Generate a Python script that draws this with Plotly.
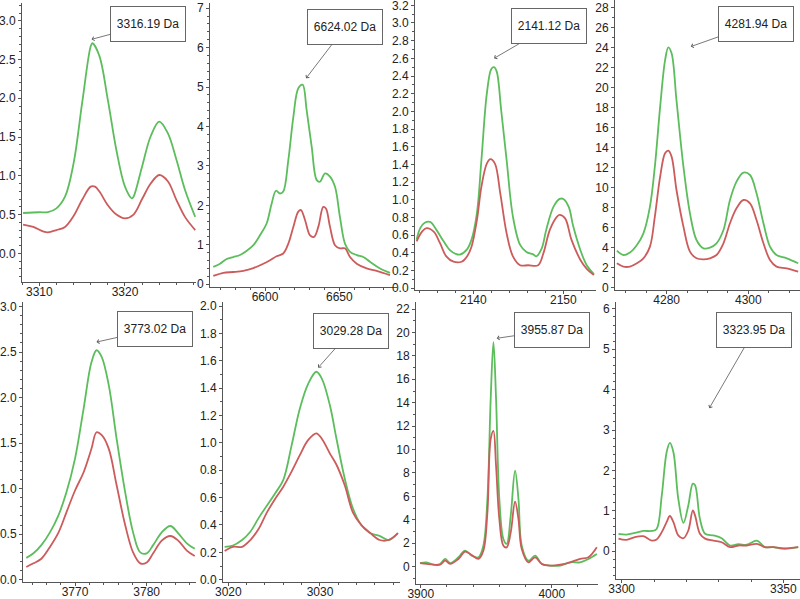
import plotly.graph_objects as go

# ---------------- data ----------------
# Panel 1
p1_gx = [3308.1, 3310, 3311, 3312, 3313, 3314, 3315, 3316, 3316.2, 3317, 3318, 3319, 3320, 3320.8, 3321, 3322, 3323, 3324, 3325, 3326, 3327, 3328.2]
p1_gy = [0.52, 0.53, 0.53, 0.58, 0.73, 1.16, 1.94, 2.67, 2.71, 2.55, 1.98, 1.33, 0.86, 0.71, 0.73, 1.12, 1.51, 1.70, 1.55, 1.21, 0.82, 0.47]
p1_rx = [3308.1, 3309.3, 3310.5, 3311, 3312, 3313, 3314, 3315, 3316, 3316.5, 3317, 3318, 3319, 3320, 3321, 3322, 3323, 3324, 3325, 3326, 3327, 3328.2]
p1_ry = [0.37, 0.34, 0.28, 0.27, 0.30, 0.34, 0.48, 0.69, 0.86, 0.86, 0.80, 0.62, 0.50, 0.45, 0.50, 0.70, 0.90, 1.01, 0.93, 0.69, 0.47, 0.30]

# Panel 2
p2_gx = [6565.2, 6569.7, 6574.2, 6578.7, 6583.2, 6587.7, 6592.2, 6596.6, 6601.1, 6604.5, 6607.4, 6610.1, 6612.3, 6615.7, 6619.1, 6622.4, 6625.3, 6628.0, 6631.4, 6634.8, 6637.0, 6640.4, 6643.7, 6647.1, 6650.4, 6653.8, 6657.2, 6661.7, 6666.1, 6670.6, 6677.4, 6684.1]
p2_gy = [0.44, 0.52, 0.64, 0.69, 0.74, 0.85, 0.99, 1.24, 1.54, 2.05, 2.37, 2.30, 2.35, 3.15, 4.25, 4.97, 5.06, 4.42, 3.49, 2.64, 2.60, 2.81, 2.73, 2.47, 1.71, 1.03, 0.82, 0.74, 0.69, 0.57, 0.40, 0.29]
p2_rx = [6565.2, 6572.0, 6578.7, 6585.4, 6592.2, 6598.9, 6603.4, 6607.8, 6612.3, 6615.7, 6619.1, 6622.4, 6624.2, 6626.9, 6630.3, 6633.0, 6635.9, 6639.2, 6641.0, 6643.7, 6647.1, 6650.4, 6653.8, 6657.2, 6661.7, 6668.4, 6675.1, 6684.1]
p2_ry = [0.21, 0.29, 0.31, 0.34, 0.41, 0.52, 0.61, 0.71, 0.78, 1.03, 1.46, 1.84, 1.88, 1.63, 1.24, 1.20, 1.46, 1.96, 1.92, 1.46, 0.99, 0.91, 0.91, 0.69, 0.52, 0.40, 0.34, 0.23]

# Panel 3
p3_gx = [2133.7, 2134.1, 2134.6, 2135.2, 2135.9, 2136.7, 2137.4, 2138.0, 2138.5, 2139.3, 2139.8, 2140.4, 2140.9, 2141.5, 2142.0, 2142.3, 2142.6, 2143.1, 2143.7, 2144.4, 2145.2, 2145.9, 2146.7, 2147.0, 2147.6, 2148.1, 2148.9, 2149.6, 2150.0, 2150.6, 2151.1, 2151.9, 2152.6, 2153.4]
p3_gy = [0.55, 0.68, 0.74, 0.75, 0.66, 0.53, 0.43, 0.39, 0.38, 0.44, 0.55, 0.85, 1.45, 2.20, 2.48, 2.50, 2.45, 2.01, 1.45, 0.81, 0.49, 0.41, 0.38, 0.36, 0.45, 0.66, 0.92, 1.01, 1.01, 0.92, 0.70, 0.43, 0.26, 0.16]
p3_rx = [2133.7, 2134.3, 2134.8, 2135.6, 2136.3, 2137.0, 2137.8, 2138.7, 2139.3, 2139.8, 2140.4, 2140.9, 2141.5, 2141.9, 2142.4, 2143.0, 2143.7, 2144.4, 2145.2, 2146.1, 2147.2, 2147.8, 2148.5, 2149.3, 2149.6, 2150.2, 2150.9, 2151.9, 2152.6, 2153.4]
p3_ry = [0.53, 0.64, 0.68, 0.64, 0.51, 0.36, 0.30, 0.30, 0.36, 0.47, 0.77, 1.15, 1.41, 1.46, 1.41, 1.07, 0.62, 0.36, 0.26, 0.26, 0.26, 0.40, 0.66, 0.81, 0.83, 0.79, 0.55, 0.32, 0.22, 0.15]

# Panel 4
p4_x = [4267.8, 4269.4, 4271.0, 4272.7, 4274.3, 4275.9, 4277.1, 4278.4, 4279.6, 4280.4, 4281.2, 4282.4, 4284.1, 4285.7, 4287.3, 4289.0, 4290.6, 4292.2, 4293.9, 4295.5, 4297.1, 4298.8, 4300.4, 4302.0, 4303.7, 4305.3, 4306.9, 4309.4, 4312.2]
p4_g = [3.67, 3.23, 3.47, 4.23, 5.4, 8.07, 12.07, 18.07, 22.7, 24.0, 23.4, 18.7, 12.07, 7.4, 4.73, 3.9, 3.97, 4.4, 5.73, 8.73, 10.57, 11.47, 11.23, 9.4, 6.4, 4.07, 3.23, 2.9, 2.4]
p4_r = [2.4, 2.07, 2.07, 2.4, 2.9, 4.07, 7.07, 11.07, 13.4, 13.67, 13.07, 9.73, 6.07, 3.57, 2.9, 2.8, 2.9, 3.23, 4.4, 6.4, 7.9, 8.73, 8.4, 6.73, 4.4, 2.73, 2.07, 1.9, 1.57]

# Panel 5
p5_x = [3763.2, 3764.2, 3765.3, 3766.5, 3767.7, 3768.8, 3770.0, 3771.2, 3772.3, 3773.0, 3773.7, 3774.7, 3775.8, 3777.0, 3778.1, 3779.1, 3780.0, 3780.9, 3782.1, 3783.3, 3784.4, 3785.6, 3786.7]
p5_g = [0.24, 0.29, 0.38, 0.52, 0.71, 0.96, 1.33, 1.88, 2.39, 2.52, 2.45, 2.14, 1.55, 0.96, 0.52, 0.30, 0.29, 0.38, 0.52, 0.59, 0.51, 0.40, 0.34]
p5_r = [0.14, 0.18, 0.23, 0.36, 0.52, 0.74, 0.98, 1.18, 1.44, 1.62, 1.59, 1.44, 1.04, 0.60, 0.30, 0.18, 0.19, 0.29, 0.43, 0.48, 0.43, 0.32, 0.26]

# Panel 6
p6_x = [3019.6, 3020.5, 3021.5, 3022.4, 3023.3, 3024.2, 3025.1, 3026.0, 3026.9, 3027.8, 3028.7, 3029.6, 3030.2, 3031.1, 3031.8, 3032.7, 3033.6, 3034.5, 3035.5, 3036.5, 3037.5, 3038.5]
p6_g = [0.24, 0.25, 0.29, 0.35, 0.45, 0.54, 0.63, 0.73, 0.98, 1.25, 1.43, 1.52, 1.47, 1.27, 1.03, 0.74, 0.52, 0.40, 0.34, 0.32, 0.29, 0.34]
p6_r = [0.21, 0.24, 0.24, 0.29, 0.37, 0.49, 0.59, 0.68, 0.79, 0.91, 1.02, 1.07, 1.03, 0.92, 0.84, 0.69, 0.49, 0.40, 0.34, 0.29, 0.29, 0.34]

# Panel 7
p7_x = [3899.5, 3904.6, 3909.7, 3914.8, 3918.6, 3922.4, 3928.8, 3933.8, 3938.9, 3944.0, 3947.8, 3950.9, 3953.4, 3955.5, 3957.5, 3960.0, 3963.1, 3965.6, 3968.7, 3972.0, 3974.6, 3977.1, 3982.2, 3987.3, 3992.4, 3998.7, 4006.4, 4014.0, 4021.6, 4028.0, 4034.4]
p7_g = [0.31, 0.37, 0.17, 0.23, 0.66, 0.31, 0.80, 1.37, 0.94, 0.80, 1.79, 5.78, 14.33, 19.17, 14.33, 5.78, 2.36, 1.94, 4.36, 8.2, 5.78, 1.79, 0.51, 0.94, 0.23, 0.09, 0.09, 0.37, 0.37, 0.66, 1.08]
p7_r = [0.31, 0.23, 0.17, 0.17, 0.51, 0.23, 0.66, 1.28, 1.0, 0.66, 1.37, 4.64, 10.9, 11.6, 8.6, 4.07, 1.79, 1.65, 2.93, 5.56, 4.07, 1.51, 0.37, 0.80, 0.23, 0.09, 0.17, 0.37, 0.66, 0.80, 1.65]

# Panel 8
p8_x = [3299.0, 3301.5, 3304.1, 3306.7, 3309.3, 3310.8, 3312.4, 3313.9, 3314.9, 3316.0, 3317.5, 3319.1, 3320.6, 3322.0, 3322.7, 3324.2, 3325.8, 3328.4, 3330.9, 3333.5, 3336.1, 3338.7, 3341.8, 3344.3, 3346.9, 3350.0, 3354.6]
p8_g = [0.43, 0.41, 0.45, 0.50, 0.50, 0.55, 1.38, 2.45, 2.68, 2.45, 1.30, 0.70, 1.13, 1.67, 1.63, 0.80, 0.43, 0.39, 0.32, 0.14, 0.17, 0.16, 0.26, 0.10, 0.10, 0.06, 0.10]
p8_r = [0.31, 0.28, 0.35, 0.37, 0.26, 0.29, 0.47, 0.72, 0.87, 0.72, 0.39, 0.32, 0.51, 1.01, 0.88, 0.43, 0.31, 0.26, 0.22, 0.10, 0.14, 0.14, 0.18, 0.10, 0.10, 0.07, 0.10]

labels = ["3316.19 Da", "6624.02 Da", "2141.12 Da", "4281.94 Da",
          "3773.02 Da", "3029.28 Da", "3955.87 Da", "3323.95 Da"]

series = [
    (p1_gx, p1_gy, p1_rx, p1_ry),
    (p2_gx, p2_gy, p2_rx, p2_ry),
    (p3_gx, p3_gy, p3_rx, p3_ry),
    (p4_x, p4_g, p4_x, p4_r),
    (p5_x, p5_g, p5_x, p5_r),
    (p6_x, p6_g, p6_x, p6_r),
    (p7_x, p7_g, p7_x, p7_r),
    (p8_x, p8_g, p8_x, p8_r),
]

# ---------------- layout config ----------------
W, H = 800, 599
# (left, right, top, bottom) in px
dom_px = [
    (22, 196, 3, 282), (210, 397, 3, 287), (415, 596, 0, 290), (615, 800, 0, 290),
    (23, 196, 302, 582), (223, 400, 302, 582), (416, 598, 302, 584), (616, 800, 302, 579),
]
xr = [(3307.98, 3328.29), (6563.0, 6688.8), (2133.52, 2153.63), (4267.34, 4312.65),
      (3762.74, 3786.88), (3019.42, 3038.73), (3896.4, 4035.3), (3298.24, 3355.15)]
yr = [(-0.37, 3.229), (-0.07, 7.13), (-0.02, 3.26), (-0.27, 28.73),
      (-0.025, 3.05), (-0.017, 2.03), (-1.48, 22.6), (-0.69, 6.17)]
xdt = [(10, 2), (50, 10), (10, 2), (20, 5), (10, 2), (10, 2), (100, 20), (50, 10)]
ydt = [(0.5, 0.1), (1, 0.2), (0.2, 0.1), (2, 1), (0.5, 0.1), (0.2, 0.1), (2, 1), (1, 0.2)]
yfmt = [".1f", "d", ".1f", "d", ".1f", ".1f", "d", "d"]
# annotation arrow head (data coords) and text offset (px)
ann_head = [(3316.1, 2.76), (6627.6, 5.22), (2142.3, 2.60), (4285.9, 24.07),
            (3773.0, 2.61), (3029.8, 1.55), (3958.0, 19.5), (3327.1, 3.54)]
ann_off = [(56, -15), (39, -51), (55, -32), (65, -23),
           (58, -13), (33, -37), (55, -8), (45, -78)]

GREEN = "#5cbd5c"
RED = "#cc5c5c"
FONT = "Liberation Sans, Arial, sans-serif"

fig = go.Figure()
layout = dict(width=W, height=H,
              margin=dict(l=0, r=0, t=0, b=0, pad=0, autoexpand=False),
              paper_bgcolor="white", plot_bgcolor="white", showlegend=False,
              font=dict(family=FONT, size=12, color="#222"))
annotations = []
for i in range(8):
    n = i + 1
    xa = "x" if n == 1 else f"x{n}"
    ya = "y" if n == 1 else f"y{n}"
    gx, gy, rx, ry = series[i]
    fig.add_trace(go.Scatter(x=gx, y=gy, mode="lines", xaxis=xa, yaxis=ya,
                             line=dict(color=GREEN, width=1.8, shape="spline", smoothing=1.0),
                             hoverinfo="skip"))
    fig.add_trace(go.Scatter(x=rx, y=ry, mode="lines", xaxis=xa, yaxis=ya,
                             line=dict(color=RED, width=1.8, shape="spline", smoothing=1.0),
                             hoverinfo="skip"))
    l, r, t, b = dom_px[i]
    common = dict(showgrid=False, zeroline=False, showline=True, linecolor="#555",
                  linewidth=1, ticks="outside", ticklen=3, tickcolor="#555",
                  automargin=False, ticklabeloverflow="allow",
                  tickfont=dict(family=FONT, size=12, color="#222"))
    layout["xaxis" if n == 1 else f"xaxis{n}"] = dict(
        domain=[l / W, r / W], range=list(xr[i]), anchor=ya, tick0=0, dtick=xdt[i][0],
        ticklabelstandoff=-4,
        minor=dict(dtick=xdt[i][1], ticks="outside", ticklen=2, tickcolor="#555", showgrid=False),
        **common)
    layout["yaxis" if n == 1 else f"yaxis{n}"] = dict(
        domain=[1 - b / H, 1 - t / H], range=list(yr[i]), anchor=xa, tick0=0, dtick=ydt[i][0],
        tickformat=yfmt[i],
        minor=dict(dtick=ydt[i][1], ticks="outside", ticklen=2, tickcolor="#555", showgrid=False),
        **common)
    hx, hy = ann_head[i]
    ax, ay = ann_off[i]
    annotations.append(dict(
        x=hx, y=hy, xref=xa, yref=ya, text=labels[i], showarrow=True,
        ax=ax, ay=ay, arrowhead=4, arrowsize=1, arrowwidth=0.8, arrowcolor="#555",
        standoff=0, bgcolor="white", bordercolor="#666", borderwidth=1, borderpad=2,
        width=70, height=30, font=dict(family=FONT, size=12, color="#222")))
layout["annotations"] = annotations
fig.update_layout(**layout)
fig.write_html("out.html", config={"displayModeBar": False, "staticPlot": True},
               post_script="document.body.style.margin='0';document.body.style.overflow='hidden';")
